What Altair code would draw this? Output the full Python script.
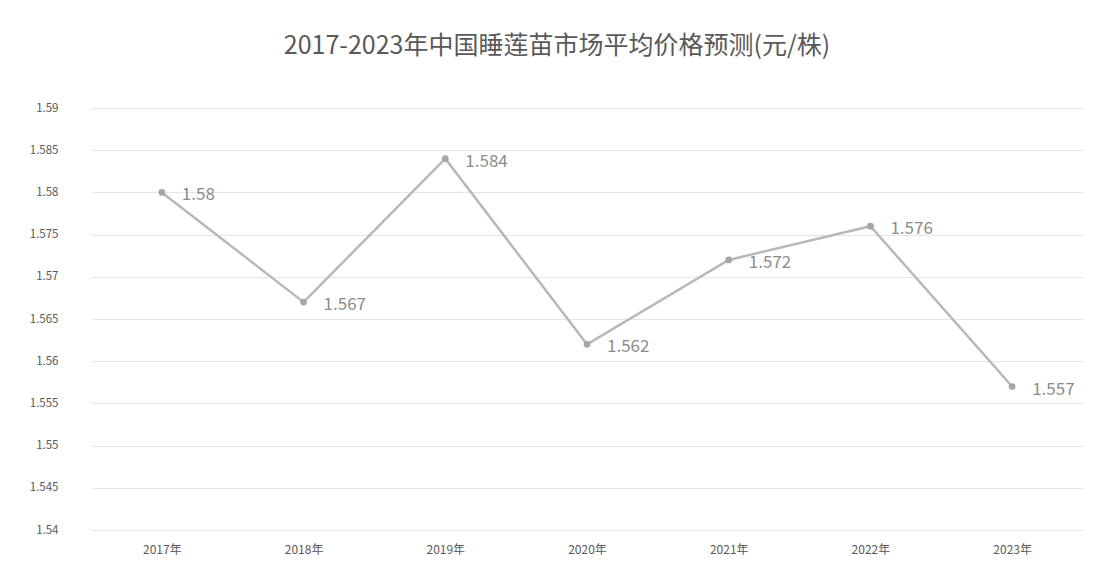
import altair as alt
import pandas as pd

years = ["2017年", "2018年", "2019年", "2020年", "2021年", "2022年", "2023年"]
prices = [1.58, 1.567, 1.584, 1.562, 1.572, 1.576, 1.557]
y_ticks = [1.54, 1.545, 1.55, 1.555, 1.56, 1.565, 1.57, 1.575, 1.58, 1.585, 1.59]

df = pd.DataFrame({"year": years, "price": prices})

font = "Noto Sans CJK SC"

base = alt.Chart(df).encode(
    x=alt.X("year:N", sort=years, title=None,
            scale=alt.Scale(type="point", padding=0.5),
            axis=alt.Axis(labelAngle=0, domain=False, ticks=False, grid=False,
                          labelFontSize=12, labelColor="#595959", labelFont=font,
                          labelPadding=14)),
    y=alt.Y("price:Q", title=None,
            scale=alt.Scale(domain=[1.54, 1.59], nice=False, zero=False),
            axis=alt.Axis(values=y_ticks, format="~g", domain=False, ticks=False,
                          grid=True, gridColor="#e6e6e6", gridWidth=1,
                          labelFontSize=11.5, labelColor="#595959", labelFont=font,
                          labelPadding=33)),
)

line = base.mark_line(color="#b8b8b8", strokeWidth=2.5)
points = base.mark_circle(color="#a6a6a6", size=45, opacity=1)
labels = base.mark_text(align="left", baseline="middle", dx=20, dy=3,
                        fontSize=17, color="#8c8c8c", font=font).encode(
    text=alt.Text("price:Q", format="~g"))

chart = (line + points + labels).properties(
    width=992, height=422,
    title=alt.TitleParams("2017-2023年中国睡莲苗市场平均价格预测(元/株)",
                          fontSize=25, font=font, fontWeight="normal",
                          color="#595959", anchor="middle", dx=-30, offset=43),
    autosize=alt.AutoSizeParams(type="none"),
    padding={"left": 83, "top": 100, "right": 15, "bottom": 48},
).configure(background="white").configure_view(strokeWidth=0, stroke="transparent")

chart.save("out.html", embed_options={"renderer": "svg", "actions": False})
